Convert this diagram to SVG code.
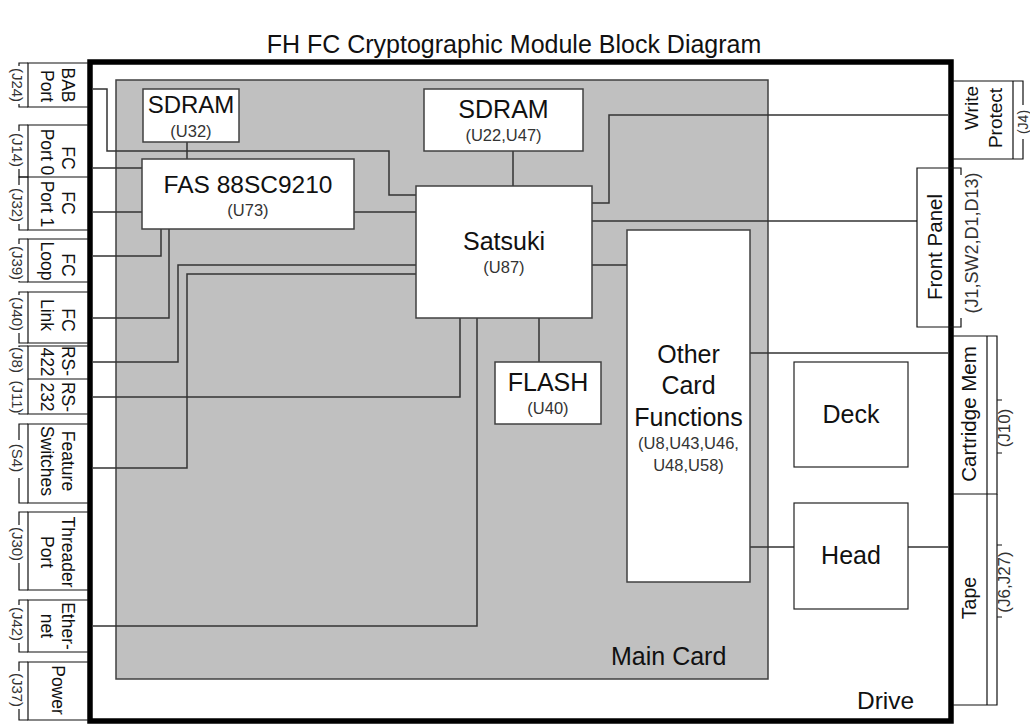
<svg xmlns="http://www.w3.org/2000/svg" width="1030" height="724" viewBox="0 0 1030 724">
<style>
text{font-family:"Liberation Sans",Arial,sans-serif;fill:#111}
.big{font-size:25px}
.sm{font-size:16.5px;fill:#333}
.lab{font-size:17.5px}
.jl{font-size:15px;fill:#333}
.jr{font-size:17px;fill:#333}
.node rect{fill:#fff;stroke:#404040;stroke-width:1.5}
.wire{fill:none;stroke:#333;stroke-width:1.5}
.cn{fill:none;stroke:#111;stroke-width:1.2}
</style>
<rect width="1030" height="724" fill="#fff"/>
<text x="514" y="53" text-anchor="middle" style="font-size:25px">FH FC Cryptographic Module Block Diagram</text>

<g id="main-card">
<rect x="116" y="80" width="652" height="599" fill="#c0c0c0" stroke="#404040" stroke-width="1.5"/>
<text x="611" y="665" class="big">Main Card</text>
</g>

<g id="connectors">
<path class="wire" d="M93,89 H107 V151 H389 V195 H416"/>
<path class="wire" d="M187,142 V159"/>
<path class="wire" d="M93,168 H142"/>
<path class="wire" d="M93,212 H142"/>
<path class="wire" d="M161,229 V256 H93"/>
<path class="wire" d="M169,229 V318 H93"/>
<path class="wire" d="M93,362 H178 V265 H416"/>
<path class="wire" d="M93,397 H460 V318"/>
<path class="wire" d="M93,468 H187 V274 H416"/>
<path class="wire" d="M477,318 V626 H93"/>
<path class="wire" d="M354,212 H416"/>
<path class="wire" d="M513,151 V186"/>
<path class="wire" d="M592,203 H609 V115 H948"/>
<path class="wire" d="M592,221 H917"/>
<path class="wire" d="M592,265 H627"/>
<path class="wire" d="M539,318 V362"/>
<path class="wire" d="M750,353 H948"/>
<path class="wire" d="M750,547 H794"/>
<path class="wire" d="M908,547 H948"/>
</g>

<g id="sdram-u32" class="node">
<rect x="143" y="89" width="96" height="53"/>
<text x="191" y="113" class="big" text-anchor="middle" style="font-size:24px">SDRAM</text>
<text x="191" y="137" class="sm" text-anchor="middle">(U32)</text>
</g>
<g id="fas" class="node">
<rect x="142" y="159" width="212" height="70"/>
<text x="248" y="193" class="big" text-anchor="middle" style="font-size:24.5px">FAS 88SC9210</text>
<text x="248" y="216" class="sm" text-anchor="middle">(U73)</text>
</g>
<g id="sdram-u22" class="node">
<rect x="424" y="89" width="159" height="62"/>
<text x="503.5" y="118" class="big" text-anchor="middle">SDRAM</text>
<text x="503.5" y="141" class="sm" text-anchor="middle">(U22,U47)</text>
</g>
<g id="satsuki" class="node">
<rect x="416" y="186" width="176" height="132"/>
<text x="504" y="250" class="big" text-anchor="middle">Satsuki</text>
<text x="504" y="273" class="sm" text-anchor="middle">(U87)</text>
</g>
<g id="flash" class="node">
<rect x="495" y="362" width="106" height="62"/>
<text x="548" y="391" class="big" text-anchor="middle">FLASH</text>
<text x="548" y="414" class="sm" text-anchor="middle">(U40)</text>
</g>
<g id="other" class="node">
<rect x="627" y="230" width="123" height="352"/>
<text x="688.5" y="363" class="big" text-anchor="middle">Other</text>
<text x="688.5" y="394" class="big" text-anchor="middle">Card</text>
<text x="688.5" y="426" class="big" text-anchor="middle">Functions</text>
<text x="688.5" y="449" class="sm" text-anchor="middle">(U8,U43,U46,</text>
<text x="688.5" y="471" class="sm" text-anchor="middle">U48,U58)</text>
</g>
<g id="deck">
<rect x="794" y="362" width="114" height="105" fill="#fff" stroke="#222" stroke-width="1.2"/>
<text x="851" y="423" class="big" text-anchor="middle">Deck</text>
</g>
<g id="head">
<rect x="794" y="503" width="114" height="106" fill="#fff" stroke="#222" stroke-width="1.2"/>
<text x="851" y="564" class="big" text-anchor="middle">Head</text>
</g>

<g id="drive">
<rect x="90" y="62" width="861" height="659" fill="none" stroke="#000" stroke-width="5.5"/>
<text x="857" y="709" class="big" style="font-size:24.5px">Drive</text>
</g>

<!-- left external connectors -->
<g id="bab-port">
<path class="cn" d="M88,63 H28 V107 H88"/>
<path class="cn" d="M28,63 H19 V66 M19,104 V107 H28"/>
<text class="lab" text-anchor="middle" transform="translate(62,85) rotate(90)">BAB</text>
<text class="lab" text-anchor="middle" transform="translate(41,86) rotate(90)">Port</text>
<text class="jl" text-anchor="middle" transform="translate(12,85) rotate(90)">(J24)</text>
</g>
<g id="fc-port0">
<path class="cn" d="M88,125 H28 V177 H88"/>
<path class="cn" d="M28,125 H19 V131 M19,169 V177 H28"/>
<text class="lab" text-anchor="middle" transform="translate(62,158) rotate(90)">FC</text>
<text class="lab" text-anchor="middle" transform="translate(41,152) rotate(90)">Port 0</text>
<text class="jl" text-anchor="middle" transform="translate(12,150) rotate(90)">(J14)</text>
</g>
<g id="fc-port1">
<path class="cn" d="M28,177 V230 H88"/>
<path class="cn" d="M28,177 H19 V185 M19,224 V230 H28"/>
<text class="lab" text-anchor="middle" transform="translate(62,203) rotate(90)">FC</text>
<text class="lab" text-anchor="middle" transform="translate(41,204) rotate(90)">Port 1</text>
<text class="jl" text-anchor="middle" transform="translate(12,205) rotate(90)">(J32)</text>
</g>
<g id="fc-loop">
<path class="cn" d="M88,239 H28 V282 H88"/>
<path class="cn" d="M28,239 H19 V244 M19,281 V282 H28"/>
<text class="lab" text-anchor="middle" transform="translate(62,265) rotate(90)">FC</text>
<text class="lab" text-anchor="middle" transform="translate(41,261) rotate(90)">Loop</text>
<text class="jl" text-anchor="middle" transform="translate(12,263) rotate(90)">(J39)</text>
</g>
<g id="fc-link">
<path class="cn" d="M88,292 H28 V343 H88"/>
<path class="cn" d="M28,292 H19 V295 M19,333 V343 H28"/>
<text class="lab" text-anchor="middle" transform="translate(62,320) rotate(90)">FC</text>
<text class="lab" text-anchor="middle" transform="translate(41,315) rotate(90)">Link</text>
<text class="jl" text-anchor="middle" transform="translate(12,314) rotate(90)">(J40)</text>
</g>
<g id="rs-422">
<path class="cn" d="M88,346 H28 V379 H88"/>
<path class="cn" d="M28,346 H19 V347"/>
<text class="lab" text-anchor="middle" transform="translate(62,361) rotate(90)">RS-</text>
<text class="lab" text-anchor="middle" transform="translate(41,362) rotate(90)">422</text>
<text class="jl" text-anchor="middle" transform="translate(12,360) rotate(90)">(J8)</text>
</g>
<g id="rs-232">
<path class="cn" d="M28,379 V414 H88"/>
<path class="cn" d="M19,413 V414 H28"/>
<text class="lab" text-anchor="middle" transform="translate(62,397) rotate(90)">RS-</text>
<text class="lab" text-anchor="middle" transform="translate(41,397) rotate(90)">232</text>
<text class="jl" text-anchor="middle" transform="translate(12,397) rotate(90)">(J11)</text>
</g>
<g id="feature-switches">
<path class="cn" d="M88,424 H28 V503 H88"/>
<path class="cn" d="M28,424 H19 V440 M19,478 V503 H28"/>
<text class="lab" text-anchor="middle" transform="translate(62,461) rotate(90)">Feature</text>
<text class="lab" text-anchor="middle" transform="translate(41,461) rotate(90)">Switches</text>
<text class="jl" text-anchor="middle" transform="translate(12,458) rotate(90)">(S4)</text>
</g>
<g id="threader-port">
<path class="cn" d="M88,512 H28 V590 H88"/>
<path class="cn" d="M28,512 H19 V525 M19,563 V590 H28"/>
<text class="lab" text-anchor="middle" transform="translate(62,552) rotate(90)">Threader</text>
<text class="lab" text-anchor="middle" transform="translate(41,552) rotate(90)">Port</text>
<text class="jl" text-anchor="middle" transform="translate(12,544) rotate(90)">(J30)</text>
</g>
<g id="ethernet">
<path class="cn" d="M88,600 H28 V652 H88"/>
<path class="cn" d="M28,600 H19 V605 M19,643 V652 H28"/>
<text class="lab" text-anchor="middle" transform="translate(62,626) rotate(90)">Ether-</text>
<text class="lab" text-anchor="middle" transform="translate(41,626) rotate(90)">net</text>
<text class="jl" text-anchor="middle" transform="translate(12,624) rotate(90)">(J42)</text>
</g>
<g id="power">
<path class="cn" d="M88,662 H28 V720 H88"/>
<path class="cn" d="M28,662 H19 V671 M19,709 V720 H28"/>
<text class="lab" text-anchor="middle" transform="translate(52,690) rotate(90)">Power</text>
<text class="jl" text-anchor="middle" transform="translate(12,690) rotate(90)">(J37)</text>
</g>

<!-- right external connectors -->
<g id="write-protect">
<path class="cn" d="M953,81 H1023 V105 M1023,139 V159 H953 M1013,81 V159"/>
<text class="lab" text-anchor="middle" style="font-size:19px" transform="translate(978,108) rotate(-90)">Write</text>
<text class="lab" text-anchor="middle" style="font-size:19px" transform="translate(1002,118) rotate(-90)">Protect</text>
<text class="jr" text-anchor="middle" style="font-size:14px" transform="translate(1028,122) rotate(-90)">(J4)</text>
</g>
<g id="front-panel">
<path class="cn" d="M961,175 V168 H917 V327 H961 V318"/>
<text class="lab" text-anchor="middle" style="font-size:20.5px" transform="translate(942,247) rotate(-90)">Front Panel</text>
<text class="jr" text-anchor="middle" style="font-size:18px" transform="translate(978,243) rotate(-90)">(J1,SW2,D1,D13)</text>
</g>
<g id="cartridge-mem">
<path class="cn" d="M953,336 H997 V494 H953 M987,336 V494 M997,400 H1002 M997,453 H1002"/>
<text class="lab" text-anchor="middle" style="font-size:20.5px" transform="translate(976,414) rotate(-90)">Cartridge Mem</text>
<text class="jr" text-anchor="middle" transform="translate(1010,428) rotate(-90)">(J10)</text>
</g>
<g id="tape">
<path class="cn" d="M997,494 V705 H953 M987,494 V705 M997,545 H1002 M997,617 H1002"/>
<text class="lab" text-anchor="middle" style="font-size:19.5px" transform="translate(976,598) rotate(-90)">Tape</text>
<text class="jr" text-anchor="middle" transform="translate(1010,582) rotate(-90)">(J6,J27)</text>
</g>
</svg>
